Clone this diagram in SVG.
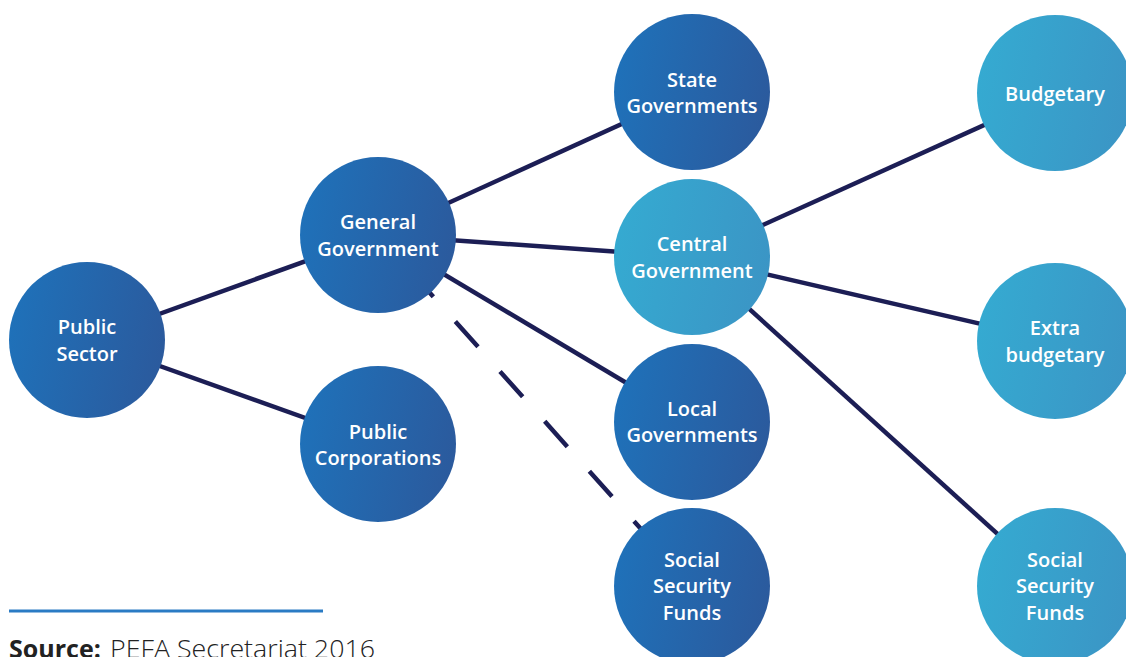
<svg xmlns="http://www.w3.org/2000/svg" width="1126" height="657" viewBox="0 0 1126 657">
<defs>
<linearGradient id="gDark" x1="0" y1="0.4" x2="1" y2="0.6">
<stop offset="0" stop-color="#1f71b9"/>
<stop offset="1" stop-color="#2b5a9d"/>
</linearGradient>
<linearGradient id="gLight" x1="0" y1="0.4" x2="1" y2="0.6">
<stop offset="0" stop-color="#35aad1"/>
<stop offset="1" stop-color="#3b95c5"/>
</linearGradient>
<style>
.dark{fill:url(#gDark)}
.light{fill:url(#gLight)}
.lbl{font-family:"Open Sans","Noto Sans",sans-serif;font-weight:600;font-size:20px;fill:#ffffff;text-anchor:middle}
.ln{stroke:#1c1e55;stroke-width:4.5;fill:none}
.dash{stroke-dasharray:34 33;stroke-dashoffset:18}
.src{font-family:"Open Sans","Noto Sans",sans-serif;font-size:25px;fill:#222222}
</style>
</defs>
<g id="connectors">
<line class="ln" x1="87" y1="340" x2="378" y2="235"/>
<line class="ln" x1="87" y1="340" x2="378" y2="444"/>
<line class="ln" x1="378" y1="235" x2="692" y2="92"/>
<line class="ln" x1="378" y1="235" x2="692" y2="257"/>
<line class="ln" x1="378" y1="235" x2="692" y2="422"/>
<line class="ln dash" x1="378" y1="235" x2="692" y2="586"/>
<line class="ln" x1="692" y1="257" x2="1055" y2="93"/>
<line class="ln" x1="692" y1="257" x2="1055" y2="341"/>
<line class="ln" x1="692" y1="257" x2="1055" y2="586"/>
</g>
<g id="public-sector">
<circle class="dark" cx="87" cy="340" r="78"/>
<text class="lbl" x="87" y="334">Public</text>
<text class="lbl" x="87" y="361">Sector</text>
</g>
<g id="general-government">
<circle class="dark" cx="378" cy="235" r="78"/>
<text class="lbl" x="378" y="229">General</text>
<text class="lbl" x="378" y="256">Government</text>
</g>
<g id="public-corporations">
<circle class="dark" cx="378" cy="444" r="78"/>
<text class="lbl" x="378" y="439">Public</text>
<text class="lbl" x="378" y="465">Corporations</text>
</g>
<g id="state-governments">
<circle class="dark" cx="692" cy="92" r="78"/>
<text class="lbl" x="692" y="87">State</text>
<text class="lbl" x="692" y="113">Governments</text>
</g>
<g id="central-government">
<circle class="light" cx="692" cy="257" r="78"/>
<text class="lbl" x="692" y="251">Central</text>
<text class="lbl" x="692" y="278">Government</text>
</g>
<g id="local-governments">
<circle class="dark" cx="692" cy="422" r="78"/>
<text class="lbl" x="692" y="416">Local</text>
<text class="lbl" x="692" y="442">Governments</text>
</g>
<g id="social-security-funds-1">
<circle class="dark" cx="692" cy="586" r="78"/>
<text class="lbl" x="692" y="567">Social</text>
<text class="lbl" x="692" y="593">Security</text>
<text class="lbl" x="692" y="620">Funds</text>
</g>
<g id="budgetary">
<circle class="light" cx="1055" cy="93" r="78"/>
<text class="lbl" x="1055" y="101">Budgetary</text>
</g>
<g id="extra-budgetary">
<circle class="light" cx="1055" cy="341" r="78"/>
<text class="lbl" x="1055" y="335">Extra</text>
<text class="lbl" x="1055" y="362">budgetary</text>
</g>
<g id="social-security-funds-2">
<circle class="light" cx="1055" cy="586" r="78"/>
<text class="lbl" x="1055" y="567">Social</text>
<text class="lbl" x="1055" y="593">Security</text>
<text class="lbl" x="1055" y="620">Funds</text>
</g>
<g id="source">
<line x1="9" y1="611" x2="323" y2="611" stroke="#2a7bc4" stroke-width="3"/>
<text class="src" x="9" y="658" font-weight="700">Source:</text>
<text class="src" x="110" y="658" font-weight="300" textLength="265" lengthAdjust="spacingAndGlyphs">PEFA Secretariat 2016</text>
</g>
</svg>
